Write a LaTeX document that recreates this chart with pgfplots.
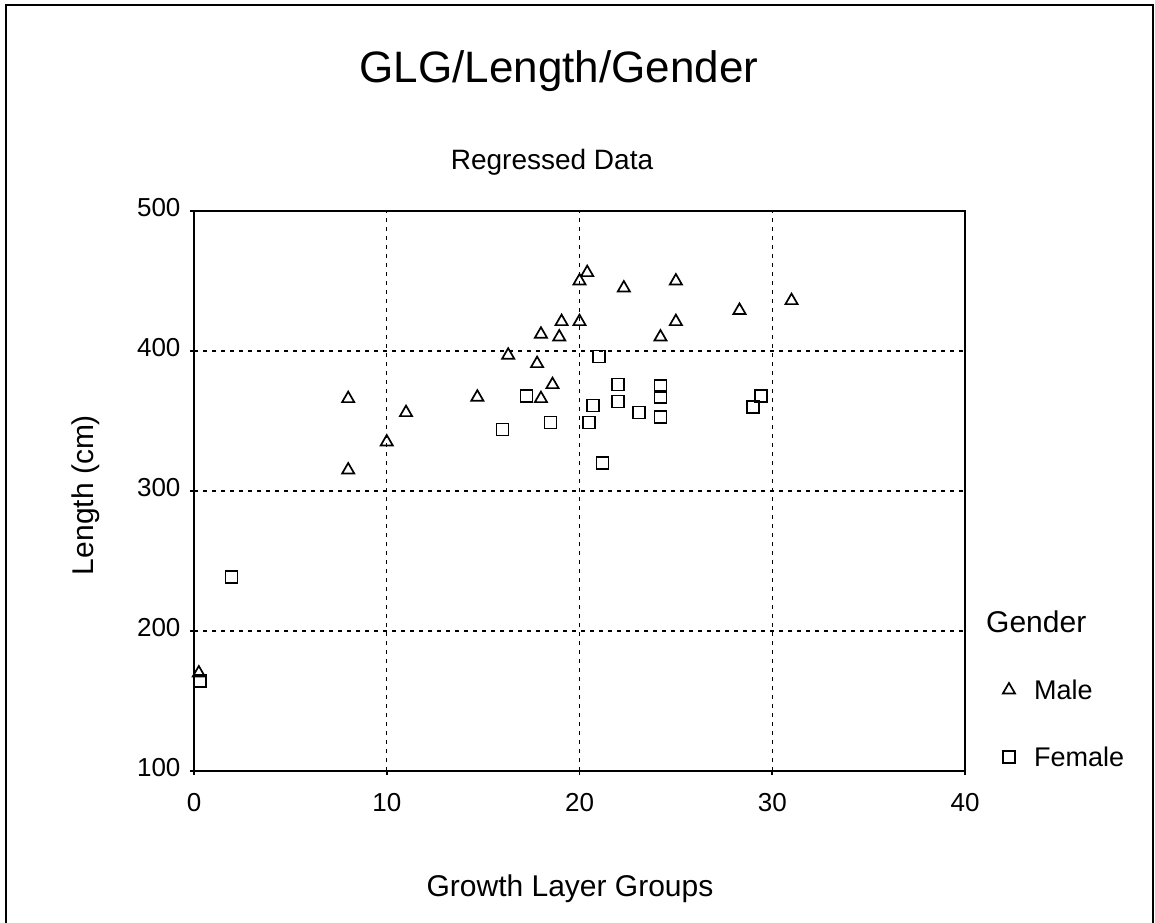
\documentclass[border=0pt]{standalone}
\usepackage{fontspec}
\setmainfont{Liberation Sans}
\usepackage{pgfplots}
\pgfplotsset{compat=1.18}
\pgfplotstableread{
x y
0.25 170
8.0 366
8.0 315
10.0 335
11.0 356
14.7 367
16.3 397
17.8 391
18.0 412
18.0 366
18.6 376
19.07 421
18.95 410
20.0 421
20.0 450
20.4 456
22.3 445
24.2 410
25.0 421
25.0 450
28.3 429
31.0 436
}\maledata
\pgfplotstableread{
x y
0.3 164.5
1.95 238.5
16.0 344
17.25 368
18.5 349
20.5 349
20.7 361
21.0 396
21.2 320
22.0 364
22.0 376
23.1 356
24.2 375
24.2 367
24.2 353
29.0 360
29.4 368
}\femaledata
\begin{document}
\begin{tikzpicture}[x=1pt,y=1pt]
\useasboundingbox (0,0) rectangle (1155,922);
\draw[line width=2.2pt] (6,-3) -- (6,917) -- (1153,917) -- (1153,-3);
\begin{axis}[
  at={(194pt,151pt)}, anchor=south west,
  scale only axis, width=771pt, height=560pt,
  xmin=0, xmax=40, ymin=100, ymax=500,
  xtick={0,10,20,30,40}, ytick={100,200,300,400,500},
  axis line style={black, line width=1.6pt},
  grid=major,
  major grid style={black, line width=1.3pt, dash pattern=on 4pt off 5pt},
  xtick pos=bottom, ytick pos=left,
  tick align=outside, major tick length=4pt,
  tick style={black, line width=1.6pt},
  /pgf/number format/assume math mode=true,
  ticklabel style={font=\fontsize{26}{30}\selectfont},
  xticklabel style={yshift=-15pt},
  yticklabel style={xshift=-6pt, yshift=3pt},
  legend style={at={(rel axis cs:1.045,0.171)}, anchor=north west, draw=none, fill=none,
    font=\fontsize{27}{30}\selectfont, row sep=42pt, column sep=13pt,
    nodes={inner xsep=6pt}},
  legend cell align=left,
]
\addplot[only marks, mark=triangle, mark size=7pt, mark options={line width=1.7pt, black}] table {\maledata};
\addlegendentry{Male}
\addplot[only marks, mark=square, mark size=6pt, mark options={line width=1.7pt, black}] table {\femaledata};
\addlegendentry{Female}
\end{axis}
\node[anchor=base, font=\fontsize{44}{50}\selectfont] at (559,839) {GLG/Length/Gender};
\node[anchor=base, font=\fontsize{28}{32}\selectfont] at (552,752) {Regressed Data};
\node[anchor=base, font=\fontsize{30}{34}\selectfont] at (570,26) {Growth Layer Groups};
\node[anchor=base, rotate=90, font=\fontsize{30}{34}\selectfont] at (93,427) {Length (cm)};
\node[anchor=base west, inner sep=0pt, font=\fontsize{30}{34}\selectfont] at (986,290) {Gender};
\end{tikzpicture}
\end{document}
